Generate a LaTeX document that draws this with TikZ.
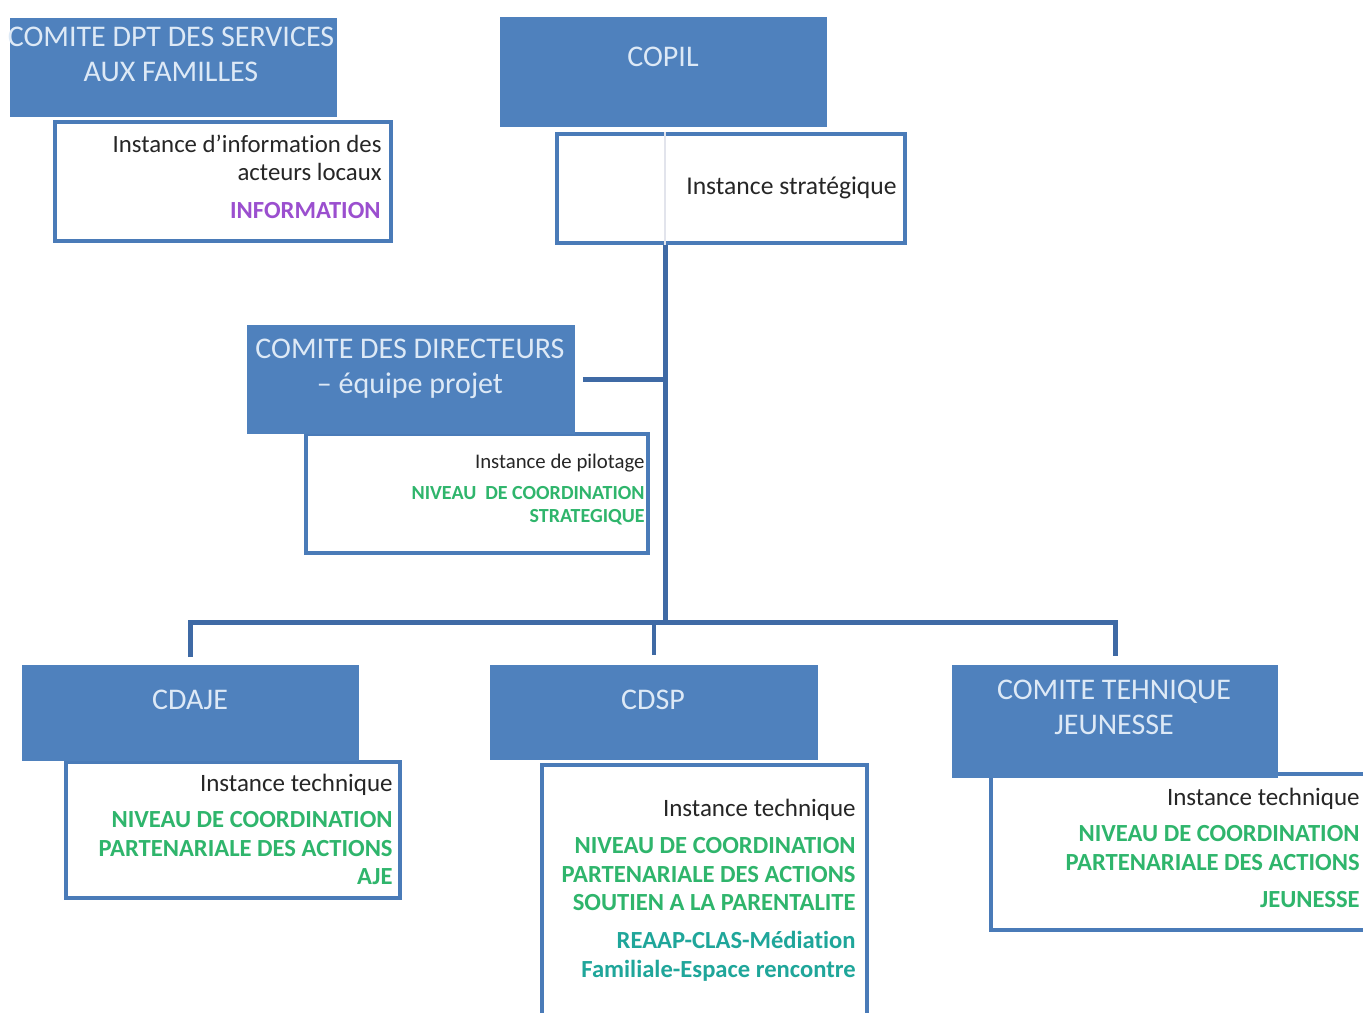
\documentclass[tikz,border=0pt]{standalone}
\usepackage{fontspec}
\setmainfont{Carlito}[Ligatures=NoCommon]
\usetikzlibrary{calc}
\definecolor{boxblue}{HTML}{4F81BD}
\definecolor{borderblue}{HTML}{4A7BB8}
\definecolor{connblue}{HTML}{3F6AA5}
\definecolor{titletext}{HTML}{DDE9F6}
\definecolor{greentext}{HTML}{2FB56C}
\definecolor{tealtext}{HTML}{1FA69A}
\definecolor{purpletext}{HTML}{9B4FCF}
\definecolor{fainttrunk}{HTML}{E2E4EC}
\begin{document}
\begin{tikzpicture}[x=0.5pt,y=-0.5pt,
  bluebox/.style={fill=boxblue, draw=none, inner sep=0pt, anchor=north west},
  whitebox/.style={fill=white, draw=borderblue, line width=2pt, inner sep=0pt, anchor=north west},
  ttl/.style={text=titletext, font=\fontsize{15}{17.5}\selectfont, align=center, inner sep=0pt, anchor=north},
  inst/.style={text=black!85, font=\fontsize{12.5}{14}\selectfont, align=right, inner sep=0pt, anchor=north east},
  grn/.style={text=greentext, font=\fontsize{12.3}{14.25}\selectfont\bfseries, align=right, inner sep=0pt, anchor=north east},
  conn/.style={draw=connblue, line width=2.5pt}]
\useasboundingbox (0,0) rectangle (1363,1012);
\clip (0,0) rectangle (1363,1012);
\fill[white] (0,0) rectangle (1363,1012);

% white boxes (drawn first, blue boxes overlap them)
\node[whitebox, minimum width=168pt, minimum height=59.5pt] (w1) at (53,120) {};
\node[whitebox, minimum width=174pt, minimum height=54.5pt] (w2) at (555,132) {};
\node[whitebox, minimum width=171pt, minimum height=59.5pt] (w3) at (304,432) {};
\node[whitebox, minimum width=167pt, minimum height=68pt] (w5) at (64,760) {};
\node[whitebox, minimum width=162.5pt, minimum height=130.5pt] (w6) at (540,763) {};
\node[whitebox, minimum width=193pt, minimum height=78pt] (w7) at (989,772) {};

% blue boxes
\node[bluebox, minimum width=163.5pt, minimum height=49.5pt] (b1) at (10,18) {};
\node[bluebox, minimum width=163.5pt, minimum height=55pt] (b2) at (500,17) {};
\node[bluebox, minimum width=164pt, minimum height=54.5pt] (b3) at (247,325) {};
\node[bluebox, minimum width=168.5pt, minimum height=48pt] (b5) at (22,665) {};
\node[bluebox, minimum width=164pt, minimum height=47.5pt] (b6) at (490,665) {};
\node[bluebox, minimum width=163pt, minimum height=56.5pt] (b7) at (952,665) {};

% connectors
\coordinate (trunk) at (665,622);
\draw[draw=fainttrunk, line width=1.2pt] (trunk |- w2.north) -- (trunk |- w2.south);
\draw[conn] (trunk |- w2.south) -- (trunk);
\draw[conn] ([xshift=3.5pt]b3.east) -- (b3.east -| trunk);
\draw[conn] ([yshift=4pt]b5.north) |- (trunk) -| ([yshift=4.5pt]b7.north);
\draw[conn, line width=2pt] (b6.north |- trunk) -- ([yshift=5pt]b6.north);

% titles
\node[ttl] (t1) at (171,27) {COMITE DPT DES SERVICES\\AUX FAMILLES};
\node[ttl] (t2) at (663,47) {COPIL};
\node[ttl] (t3) at (410,339) {COMITE DES DIRECTEURS\\– équipe projet};
\node[ttl] (t5) at (190,690) {CDAJE};
\node[ttl] (t6) at (653,690) {CDSP};
\node[ttl] (t7) at (1114,680) {COMITE TEHNIQUE\\JEUNESSE};

% white box texts
\node[inst, font=\fontsize{12.4}{14}\selectfont] (i1) at (382,135) {Instance d’information des\\acteurs locaux};
\node[grn, text=purpletext] (g1) at (381,202) {INFORMATION};
\node[inst, font=\fontsize{12.8}{14}\selectfont] (i2) at (897,176) {Instance stratégique};
\node[inst, font=\fontsize{10.4}{12}\selectfont] (i3) at (645,454) {Instance de pilotage};
\node[grn, font=\fontsize{10}{11.5}\selectfont\bfseries] (g3) at (645,486) {NIVEAU~~DE COORDINATION\\STRATEGIQUE};
\node[inst] (i5) at (393,774) {Instance technique};
\node[grn] (g5) at (393,811) {NIVEAU DE COORDINATION\\PARTENARIALE DES ACTIONS\\AJE};
\node[inst] (i6) at (856,799) {Instance technique};
\node[grn] (g6) at (856,837) {NIVEAU DE COORDINATION\\PARTENARIALE DES ACTIONS\\SOUTIEN A LA PARENTALITE};
\node[grn, text=tealtext, font=\fontsize{12.3}{14.5}\selectfont\bfseries] (h6) at (856,931) {REAAP-CLAS-Médiation\\Familiale-Espace rencontre};
\node[inst] (i7) at (1360,788) {Instance technique};
\node[grn] (g7) at (1360,825) {NIVEAU DE COORDINATION\\PARTENARIALE DES ACTIONS};
\node[grn] (j7) at (1360,891) {JEUNESSE};
\end{tikzpicture}
\end{document}
